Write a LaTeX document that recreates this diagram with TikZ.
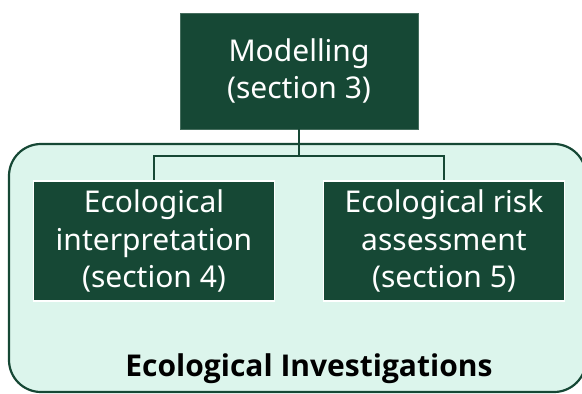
\documentclass[tikz,border=0pt]{standalone}
\usepackage{fontspec}
\setmainfont{Noto Sans}
\newfontfamily\titlefont{Open Sans}
\usepackage{tikz}
\usetikzlibrary{positioning}
\definecolor{forest}{RGB}{22,72,53}
\definecolor{mint}{RGB}{220,245,236}
\tikzset{
	x=1pt, y=-1pt, % one unit per pixel, y running down
	node distance=170pt and 145pt,
	on grid,
	box/.style={rectangle, fill=forest, text=white, align=center,
		inner sep=0pt, font=\fontsize{30}{37.5}\selectfont},
	topbox/.style={box, draw=forest!80, thin, minimum width=238pt, minimum height=116pt},
	subbox/.style={box, draw=white, line width=1.8pt, minimum width=241pt, minimum height=120pt},
	link/.style={draw=forest, line width=1.6pt},
	panel/.style={draw=forest, fill=mint, line width=2.2pt, rounded corners=32pt},
}
\begin{document}
\begin{tikzpicture}
      \clip (0,0) rectangle (582,394);
      \fill[white] (0,0) rectangle (582,394);
      \draw[panel] (9,144) rectangle (586,392); % container
      
      \node[topbox] (model) at (299,71) {Modelling\\(section 3)};
      \node[subbox, below left=of model] (interp) {Ecological\\interpretation\\(section 4)};
      \node[subbox, below right=of model] (risk) {Ecological risk\\assessment\\(section 5)};
      \coordinate (fork) at (299,156);
      
      \draw[link] (model) -- (fork) -| (interp);
      \draw[link] (fork) -| (risk);
      
      \node (panel) at (309,369) {\titlefont\bfseries\fontsize{30}{36}\selectfont Ecological Investigations};
\end{tikzpicture}
\end{document}
